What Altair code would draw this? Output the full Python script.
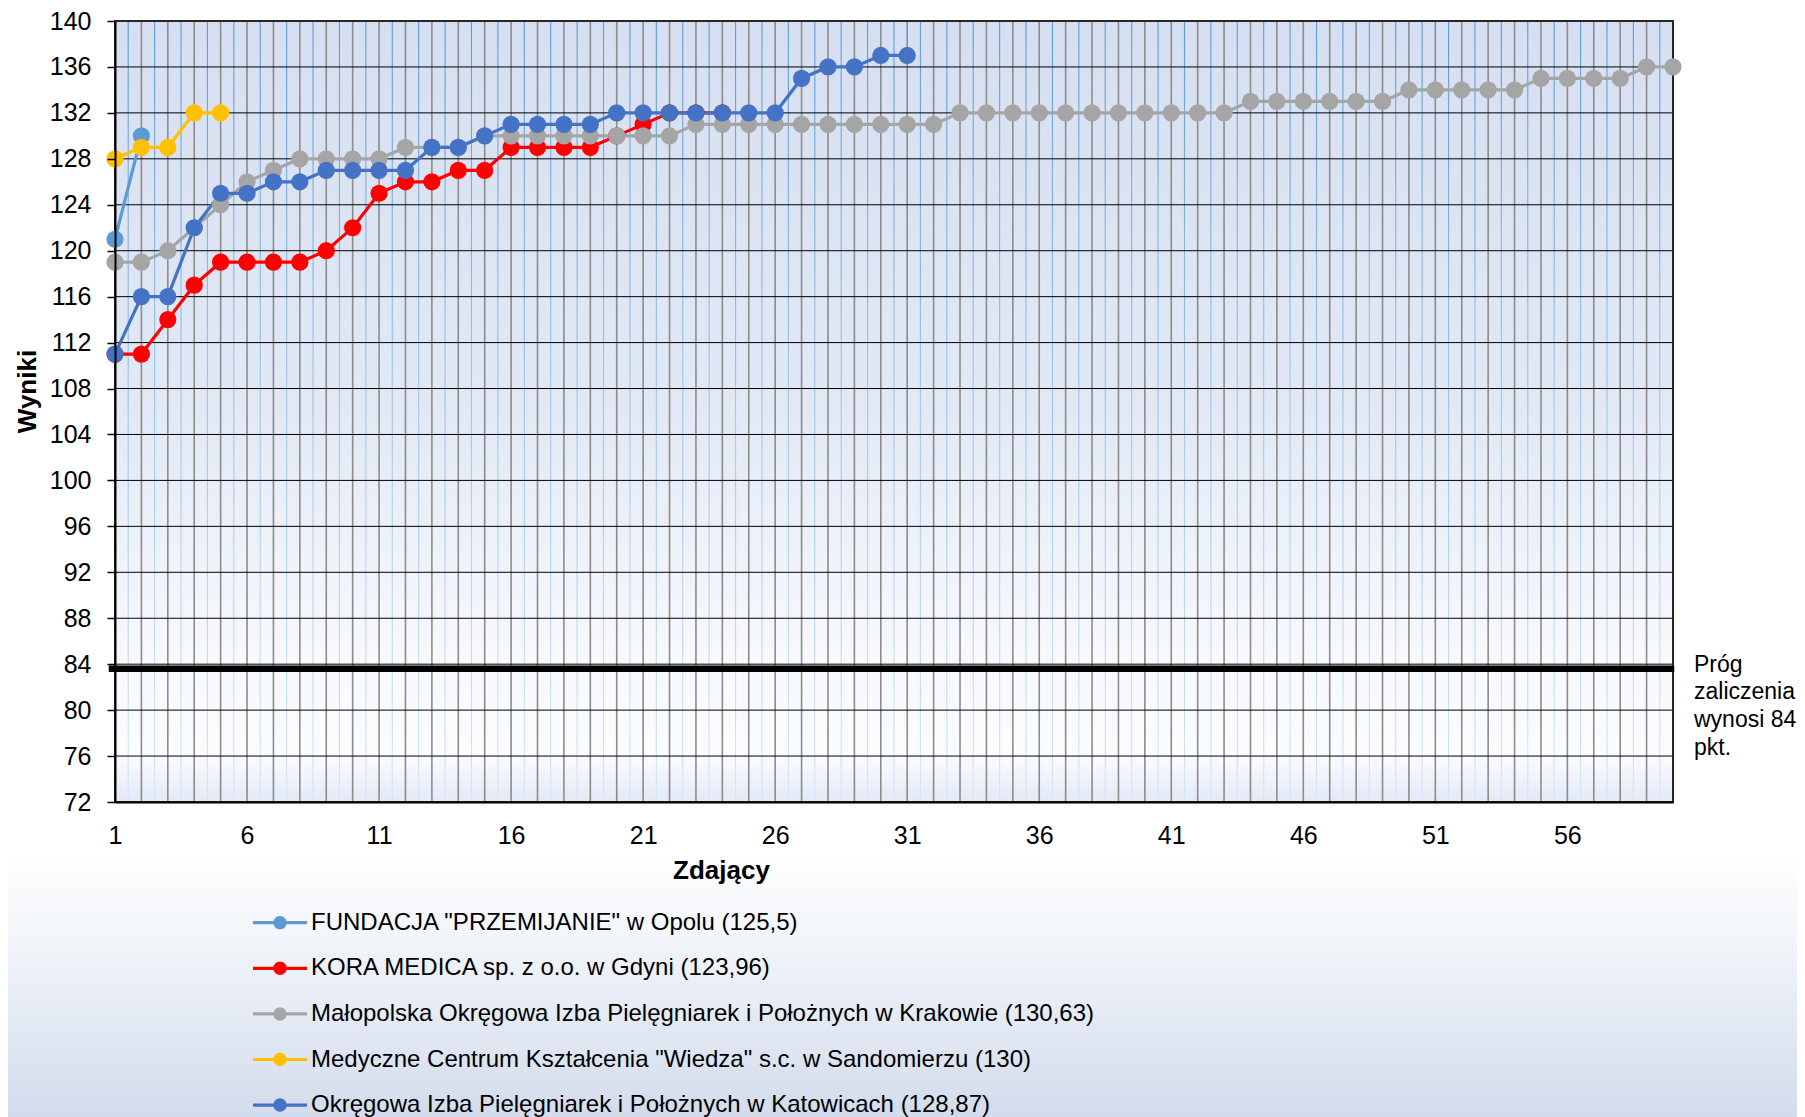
import altair as alt
import pandas as pd

FONT = "Liberation Sans"

series_names = [
    'FUNDACJA "PRZEMIJANIE" w Opolu (125,5)',
    'KORA MEDICA sp. z o.o. w Gdyni (123,96)',
    'Małopolska Okręgowa Izba Pielęgniarek i Położnych w Krakowie (130,63)',
    'Medyczne Centrum Kształcenia "Wiedza" s.c. w Sandomierzu (130)',
    'Okręgowa Izba Pielęgniarek i Położnych w Katowicach (128,87)',
]
series_colors = ["#5B9BD5", "#FF0000", "#A5A5A5", "#FFC000", "#4472C4"]

fundacja = [121, 130]
kora = [111, 111, 114, 117, 119, 119, 119, 119, 120, 122, 125, 126,
        126, 127, 127, 129, 129, 129, 129, 130, 131, 132, 132, 132]
malopolska = [119, 119, 120, 122, 124, 126, 127, 128, 128, 128,
              128, 129, 129, 129, 130, 130, 130, 130, 130, 130,
              130, 130, 131, 131, 131, 131, 131, 131, 131, 131,
              131, 131, 132, 132, 132, 132, 132, 132, 132, 132,
              132, 132, 132, 133, 133, 133, 133, 133, 133, 134,
              134, 134, 134, 134, 135, 135, 135, 135, 136, 136]
wiedza = [128, 129, 129, 132, 132]
katowice = [111, 116, 116, 122, 125, 125, 126, 126, 127, 127, 127,
            127, 129, 129, 130, 131, 131, 131, 131, 132, 132, 132,
            132, 132, 132, 132, 135, 136, 136, 137, 137]

threshold = 83.6   # as drawn (label says 84)
threshold_text = ["Próg", "zaliczenia", "wynosi 84", "pkt."]
x_tick_labels = [1, 6, 11, 16, 21, 26, 31, 36, 41, 46, 51, 56]
y_tick_labels = [72, 76, 80, 84, 88, 92, 96, 100, 104, 108, 112, 116,
                 120, 124, 128, 132, 136, 140]
x_first, x_last = 1, 60

rows = []
for name, vals in zip(series_names, [fundacja, kora, malopolska, wiedza, katowice]):
    for i, v in enumerate(vals, start=1):
        rows.append({"series": name, "x": i, "y": v})
df = pd.DataFrame(rows)

major_df = pd.DataFrame({"gx": list(range(x_first, x_last + 1))})
minor_df = pd.DataFrame({"gx": [i + 0.5 for i in range(x_first, x_last)]})
hgrid_df = pd.DataFrame({"gy": y_tick_labels})
one = pd.DataFrame({"k": [0]})

W, H = 1558, 781
PL, PT, PR, PB = 107, 13, 124, 315

xscale = alt.Scale(domain=[x_first, x_last], nice=False, zero=False)
yscale = alt.Scale(domain=[72, 140], nice=False, zero=False)

xaxis = alt.Axis(values=x_tick_labels, title="Zdający", grid=False, ticks=False,
                 tickSize=0, domainColor="black", domainWidth=2,
                 labelFont=FONT, labelFontSize=25, labelColor="black",
                 labelPadding=21, labelFlush=False, labelOverlap=False,
                 titleFont=FONT, titleFontSize=26, titleFontWeight="bold",
                 titleColor="black", titleX=606, titleY=76, titleAlign="center",
                 titleBaseline="alphabetic", zindex=1)
yaxis = alt.Axis(values=y_tick_labels, title="Wyniki", grid=False, ticks=True,
                 tickSize=8, tickColor="black", tickWidth=1.5,
                 domainColor="black", domainWidth=2,
                 labelFont=FONT, labelFontSize=25, labelColor="black",
                 labelPadding=16, labelFlush=False, labelOverlap=False,
                 titleFont=FONT, titleFontSize=26, titleFontWeight="bold",
                 titleColor="black", titleX=-88, titleY=370, titleAngle=270,
                 titleAlign="center", titleBaseline="middle", zindex=1)

LEG_PATH = ("M-1,0L1,0M-0.19,0A0.19,0.19,0,1,1,0.19,0"
            "A0.19,0.19,0,1,1,-0.19,0Z")
legend = alt.Legend(title=None, orient="none", legendX=136, legendY=872.7,
                    direction="vertical", symbolType=LEG_PATH, symbolSize=2916,
                    symbolStrokeWidth=3.2, labelFont=FONT, labelFontSize=24,
                    labelColor="black", labelOffset=2, rowPadding=4.6, padding=0,
                    labelLimit=1500, zindex=1)

color = alt.Color("series:N", scale=alt.Scale(domain=series_names, range=series_colors),
                  legend=legend)

page_bg = alt.Chart(one).mark_rect(
    fill=alt.LinearGradient(gradient="linear", x1=0, x2=0, y1=0, y2=1, stops=[
        alt.GradientStop(color="#FFFFFF", offset=0),
        alt.GradientStop(color="#FFFFFF", offset=0.76),
        alt.GradientStop(color="#EEF2F8", offset=0.86),
        alt.GradientStop(color="#D3DCEC", offset=1)])
).encode(x=alt.value(-PL), x2=alt.value(W + PR), y=alt.value(-PT), y2=alt.value(H + PB))

plot_bg = alt.Chart(one).mark_rect(
    fill=alt.LinearGradient(gradient="linear", x1=0, x2=0, y1=0, y2=1, stops=[
        alt.GradientStop(color="#D6DFF1", offset=0),
        alt.GradientStop(color="#E2E9F5", offset=0.5),
        alt.GradientStop(color="#F6F8FC", offset=0.8),
        alt.GradientStop(color="#FBFCFE", offset=0.94),
        alt.GradientStop(color="#E2E9F6", offset=1)])
).encode(x=alt.value(0), x2=alt.value(W), y=alt.value(0), y2=alt.value(H))

minor = alt.Chart(minor_df).transform_calculate(
    a="datum.gx - 0.021", b="datum.gx + 0.021"
).mark_rect(
    fill=alt.LinearGradient(gradient="linear", x1=0, x2=0, y1=0, y2=1, stops=[
        alt.GradientStop(color="#5B9BD5", offset=0),
        alt.GradientStop(color="#9CC3E8", offset=0.45),
        alt.GradientStop(color="#D6E6F6", offset=1)])
).encode(x=alt.X("a:Q", scale=xscale, axis=xaxis), x2="b:Q",
         y=alt.value(0), y2=alt.value(H))

major = alt.Chart(major_df).mark_rule(color="#8C8C8C", strokeWidth=1.6).encode(
    x=alt.X("gx:Q", scale=xscale, axis=xaxis))

hgrid = alt.Chart(hgrid_df).mark_rule(color="#000000", strokeWidth=1).encode(
    y=alt.Y("gy:Q", scale=yscale, axis=yaxis))

border = alt.Chart(one).mark_rect(fillOpacity=0, stroke="#262626", strokeWidth=2).encode(
    x=alt.value(0), x2=alt.value(W), y=alt.value(0), y2=alt.value(H))

thr = alt.Chart(one).mark_rule(color="black", strokeWidth=6.5, strokeCap="square").encode(
    y=alt.Y(datum=threshold, type="quantitative", scale=yscale, axis=yaxis),
    x=alt.value(-3), x2=alt.value(W - 2))

lines = alt.Chart(df).mark_line(strokeWidth=3.2).encode(
    x=alt.X("x:Q", scale=xscale, axis=xaxis),
    y=alt.Y("y:Q", scale=yscale, axis=yaxis),
    color=color)

points = alt.Chart(df).mark_circle(size=295, opacity=1).encode(
    x=alt.X("x:Q", scale=xscale, axis=xaxis),
    y=alt.Y("y:Q", scale=yscale, axis=yaxis),
    color=color)

note = alt.Chart(one).mark_text(
    align="left", baseline="top", font=FONT, fontSize=23, color="black",
    lineHeight=27.6, dx=21, dy=-15
).encode(x=alt.value(W),
         y=alt.Y(datum=threshold, type="quantitative", scale=yscale, axis=yaxis),
         text=alt.value(threshold_text))

chart = alt.layer(page_bg, plot_bg, minor, major, hgrid, border, thr, lines, points, note).properties(
    width=W, height=H,
    padding={"left": PL, "top": PT, "right": PR, "bottom": PB},
    autosize=alt.AutoSizeParams(type="none"),
).configure_view(stroke=None)

chart.save("out.html", embed_options={"renderer": "svg", "actions": False})
